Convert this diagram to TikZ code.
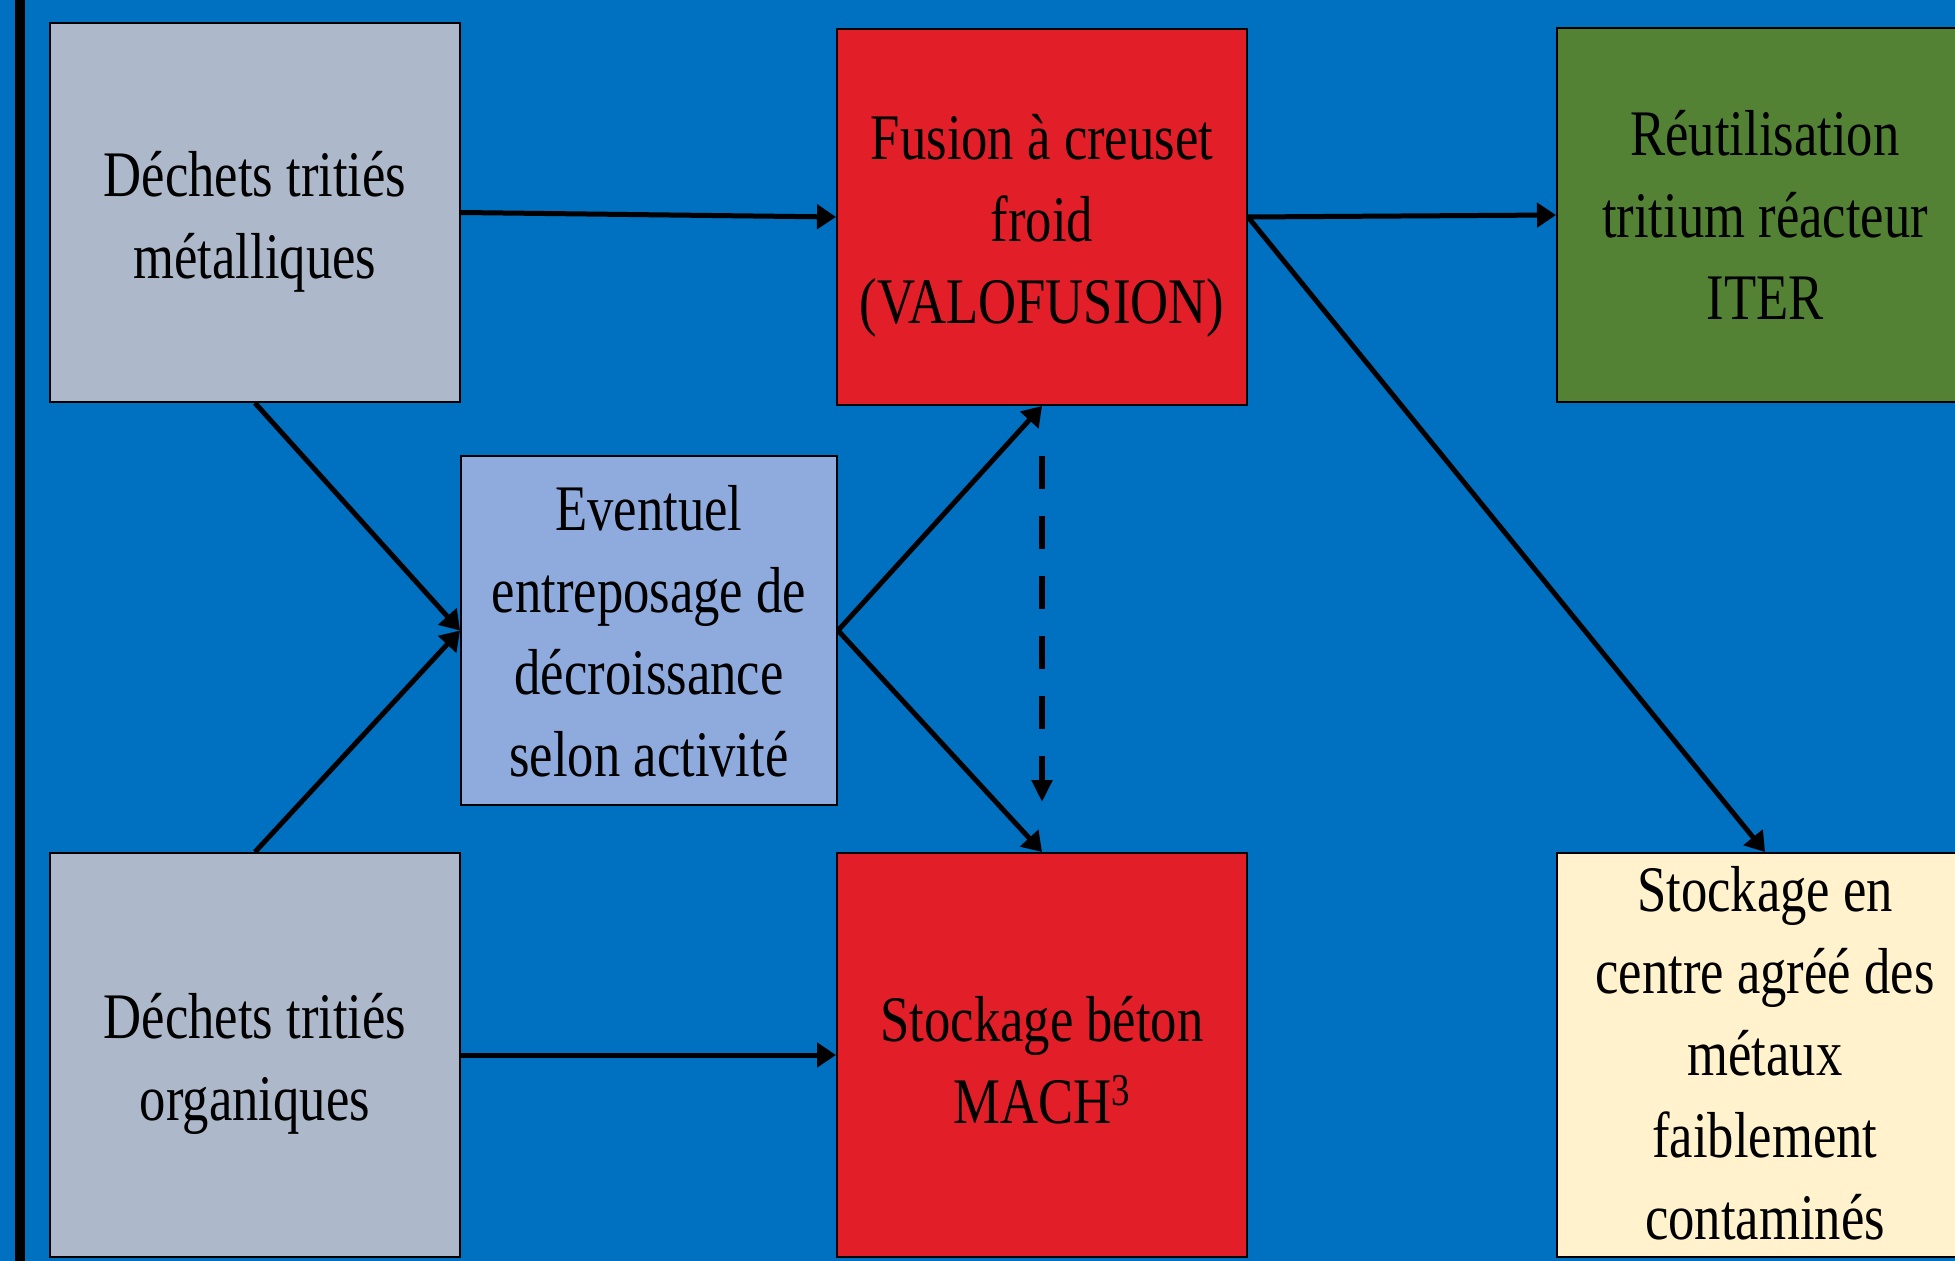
\documentclass[tikz,border=0pt]{standalone}
\usepackage{fontspec}
\setmainfont{Liberation Serif}[FakeStretch=0.81]
\usetikzlibrary{arrows.meta}
\definecolor{bgblue}{RGB}{0,112,192}
\definecolor{boxgray}{RGB}{173,185,202}
\definecolor{boxred}{RGB}{226,31,41}
\definecolor{boxgreen}{RGB}{84,130,53}
\definecolor{boxlblue}{RGB}{143,170,220}
\definecolor{boxcream}{RGB}{255,242,204}
\tikzset{
  box/.style={draw=black, line width=1pt, inner sep=0pt},
  lbl/.style={inner sep=0pt, align=center,
    font=\fontsize{32.5pt}{41pt}\selectfont},
  conn/.style={line width=2.5pt, -{Triangle[length=9.5pt,width=12pt]}},
  dconn/.style={line width=2.8pt, dash pattern=on 16.5pt off 13.5pt, -{Triangle[length=11pt,width=10pt]}}
}
\begin{document}
\begin{tikzpicture}[x=0.5pt,y=-0.5pt]
\useasboundingbox (0,0) rectangle (1955,1261);
\fill[bgblue] (0,0) rectangle (1955,1261);
\fill[black] (15,0) rectangle (25,1261);

\node[box, fill=boxgray, minimum width=205pt, minimum height=189.5pt] (met) at (255,212.5) {};
\node[box, fill=boxgray, minimum width=205pt, minimum height=202pt] (org) at (255,1055) {};
\node[box, fill=boxred, minimum width=205pt, minimum height=188pt] (fus) at (1042,217) {};
\node[box, fill=boxlblue, minimum width=188pt, minimum height=174.5pt] (ent) at (649,630.5) {};
\node[box, fill=boxred, minimum width=205pt, minimum height=202pt] (mach) at (1042,1055) {};
\node[box, fill=boxgreen, minimum width=208pt, minimum height=187pt] (iter) at (1765,215) {};
\node[box, fill=boxcream, minimum width=208pt, minimum height=202pt] (stock) at (1765,1055) {};

\node[lbl, yshift=-4.5pt] (metT) at (met.center) {Déchets tritiés\\métalliques};
\node[lbl, yshift=-4.5pt] (orgT) at (org.center) {Déchets tritiés\\organiques};
\node[lbl, yshift=-4.5pt] (fusT) at (fus.center) {Fusion à creuset\\froid\\(VALOFUSION)};
\node[lbl, yshift=-0.5pt] (entT) at (ent.center) {Eventuel\\entreposage de\\décroissance\\selon activité};
\node[lbl, yshift=-2.5pt] (machT) at (mach.center) {Stockage béton\\MACH\textsuperscript{3}};
\node[lbl, yshift=0pt] (iterT) at (iter.center) {Réutilisation\\tritium réacteur\\ITER};
\node[lbl, yshift=1pt] (stockT) at (stock.center) {Stockage en\\centre agréé des\\métaux\\faiblement\\contaminés};

\draw[conn] (met.east) -- (fus.west);
\draw[conn] (fus.east) -- (iter.west);
\draw[conn] (fus.east) -- (stock.north);
\draw[conn] (met.south) -- (ent.west);
\draw[conn] (org.north) -- (ent.west);
\draw[conn] (ent.east) -- (fus.south);
\draw[conn] (ent.east) -- (mach.north);
\draw[conn] (org.east) -- (mach.west);
\coordinate (dtop) at ([yshift=-25pt]fus.south);
\coordinate (dbot) at ([yshift=25pt]mach.north);
\draw[dconn] (dtop) -- (dbot);
\end{tikzpicture}
\end{document}
